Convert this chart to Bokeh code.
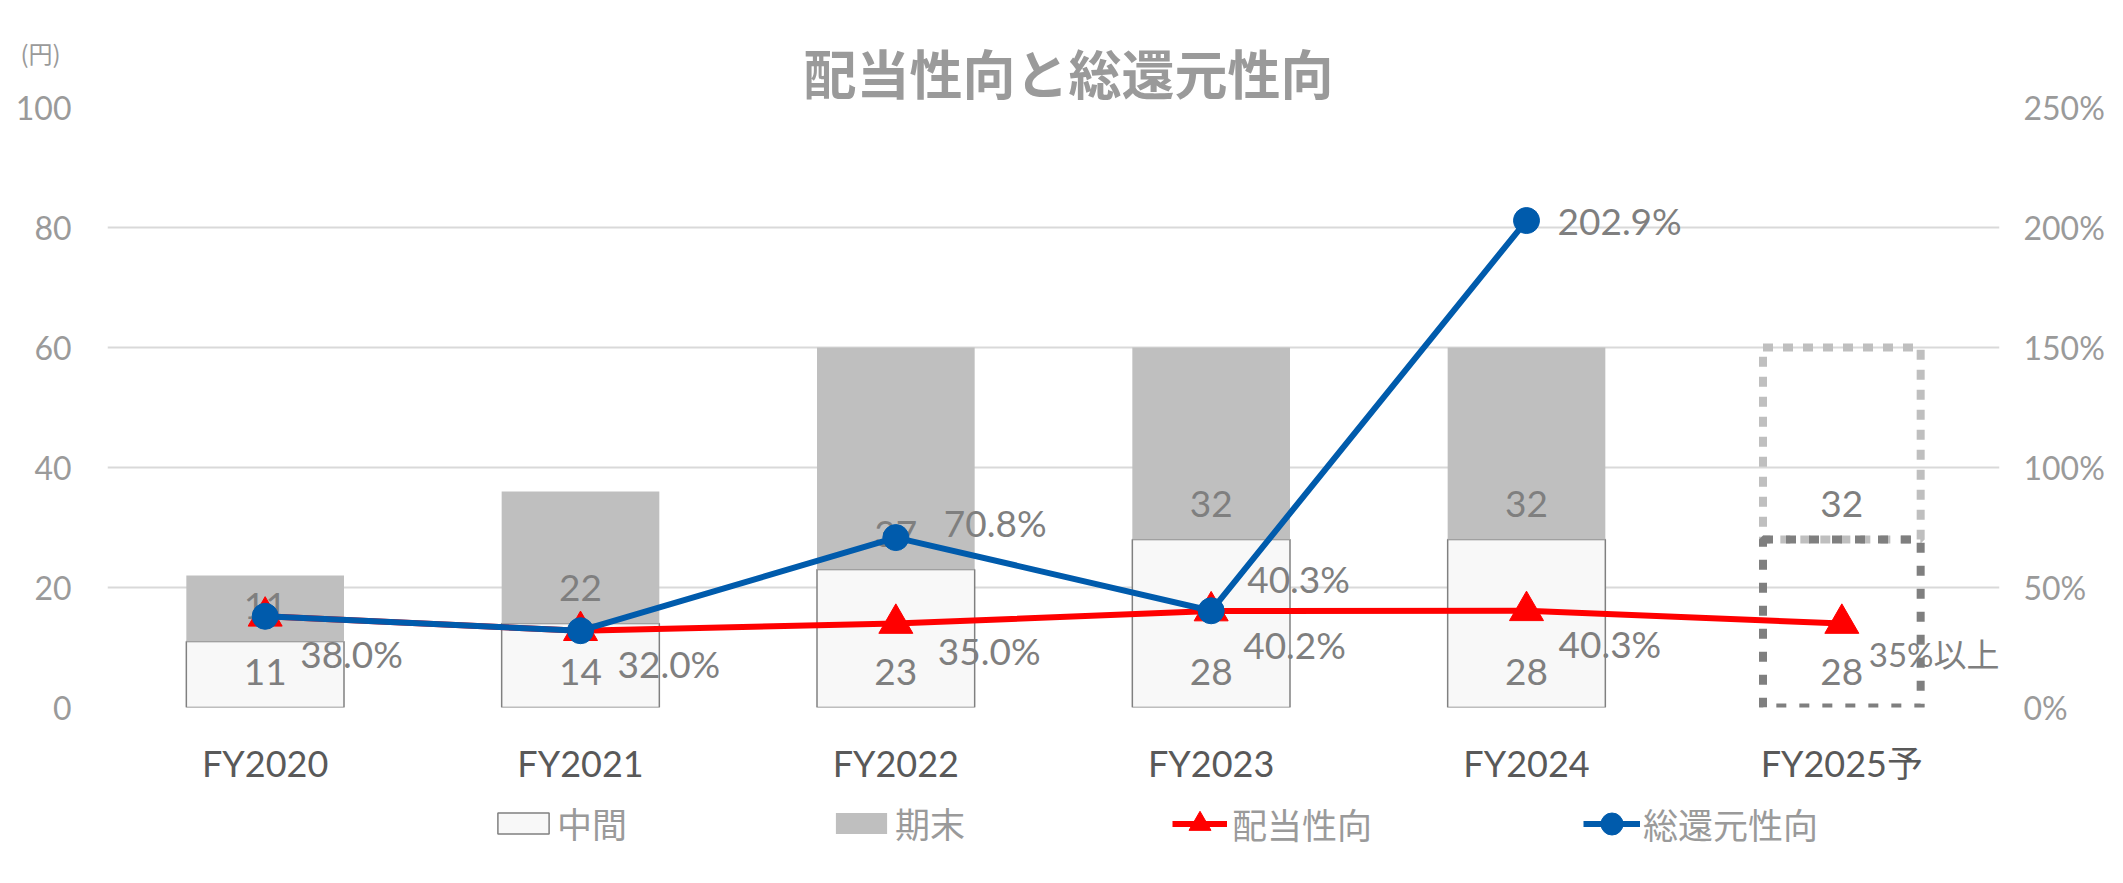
from bokeh.plotting import figure
from bokeh.layouts import column
from bokeh.models import (FactorRange, Range1d, LinearAxis, FixedTicker, PrintfTickFormatter,
                          Legend, LegendItem, Title)
from bokeh.core.properties import value
from bokeh.embed import file_html
from bokeh.resources import INLINE

# ---------------- data ----------------
categories = ["FY2020", "FY2021", "FY2022", "FY2023", "FY2024", "FY2025予"]
interim = [11, 14, 23, 28, 28, 28]          # 中間
year_end = [11, 22, 37, 32, 32, 32]         # 期末
payout_ratio = [38.0, 32.0, 35.0, 40.2, 40.3, 35.0]          # 配当性向 (%)
payout_labels = ["38.0%", "32.0%", "35.0%", "40.2%", "40.3%", "35%以上"]
total_return = [38.0, 32.0, 70.8, 40.3, 202.9]               # 総還元性向 (%)
total_return_labels = ["", "", "70.8%", "40.3%", "202.9%"]
left_ticks = [0, 20, 40, 60, 80, 100]
right_ticks = [0, 50, 100, 150, 200, 250]
n_actual = 5   # FY2025 is a forecast

# label offsets (screen px) - styling only
payout_dx = [35, 37, 42, 32, 32, 27]
payout_dy = [37, 33, 27, 33, 33, 30]
tr_dx = [0, 0, 48, 36, 31]
tr_dy = [0, 0, -15, -32, 0]

GREY_TXT = "#9a9a9a"
LBL = "#7f7f7f"
FONT = "Lato, 'Noto Sans CJK JP'"
CJK = "Noto Sans CJK JP"
W = 2107

p = figure(width=W, height=790, x_range=FactorRange(*categories), y_range=Range1d(0, 100),
           output_backend="svg", toolbar_location=None, title=None,
           min_border_left=107, min_border_right=105, min_border_top=107, min_border_bottom=83)
p.extra_y_ranges = {"pct": Range1d(0, 250)}
p.outline_line_color = None
p.background_fill_color = "white"
p.border_fill_color = "white"

# titles
p.add_layout(Title(text="配当性向と総還元性向", text_font=CJK, text_font_style="bold",
                   text_font_size="53px", text_color=GREY_TXT, align="left", offset=696,
                   standoff=-5), "above")
p.add_layout(Title(text="(円)", text_font=CJK, text_font_style="normal",
                   text_font_size="24px", text_color=GREY_TXT, align="left", offset=-87,
                   standoff=-70), "above")

# axes
p.yaxis.ticker = FixedTicker(ticks=left_ticks)
for ax in [p.xaxis[0], p.yaxis[0]]:
    ax.axis_line_color = None
    ax.major_tick_line_color = None
    ax.minor_tick_line_color = None
    ax.major_tick_out = 0
    ax.major_tick_in = 0
p.yaxis.major_label_text_font = FONT
p.yaxis.major_label_text_font_size = "32px"
p.yaxis.major_label_text_color = GREY_TXT
p.yaxis.major_label_standoff = 36
p.xaxis.major_label_text_font = FONT
p.xaxis.major_label_text_font_size = "36px"
p.xaxis.major_label_text_color = "#595959"
p.xaxis.major_label_standoff = 33

right = LinearAxis(y_range_name="pct", ticker=FixedTicker(ticks=right_ticks),
                   formatter=PrintfTickFormatter(format="%d%%"))
right.axis_line_color = None
right.major_tick_line_color = None
right.minor_tick_line_color = None
right.major_tick_out = 0
right.major_tick_in = 0
right.major_label_text_font = FONT
right.major_label_text_font_size = "32px"
right.major_label_text_color = GREY_TXT
right.major_label_standoff = 24
p.add_layout(right, "right")

p.xgrid.grid_line_color = None
p.ygrid.grid_line_color = "#d9d9d9"
p.ygrid.grid_line_width = 2

# bars
tops = [a + b for a, b in zip(interim, year_end)]
MID_STYLE = dict(fill_color="#f8f8f8", line_color="#808080", line_width=1.5)
END_STYLE = dict(fill_color="#bfbfbf", line_color=None)
p.vbar(x=categories[:n_actual], bottom=0, top=interim[:n_actual], width=0.5, **MID_STYLE)
p.vbar(x=categories[:n_actual], bottom=interim[:n_actual], top=tops[:n_actual], width=0.5, **END_STYLE)
p.vbar(x=categories[n_actual:], bottom=interim[n_actual:], top=tops[n_actual:], width=0.5,
       fill_color=None, line_color="#bfbfbf", line_width=8, line_dash="10 10")
p.vbar(x=categories[n_actual:], bottom=0, top=interim[n_actual:], width=0.5,
       fill_color=None, line_color="#7f7f7f", line_width=8, line_dash="10 13")

# bar labels (inside base)
p.text(x=categories, y=[0 for _ in interim], text=[str(v) for v in interim],
       text_align="center", text_baseline="middle", y_offset=-36,
       text_font=value(FONT), text_font_size="37px", text_color=LBL)
p.text(x=categories, y=interim, text=[str(v) for v in year_end],
       text_align="center", text_baseline="middle", y_offset=-36,
       text_font=value(FONT), text_font_size="37px", text_color=LBL)

# lines
RED = "#ff0000"
BLUE = "#005bac"
LW = 6
p.line(x=categories, y=payout_ratio, y_range_name="pct", line_color=RED, line_width=LW)
p.scatter(x=categories, y=payout_ratio, y_range_name="pct", marker="triangle", size=34,
          fill_color=RED, line_color=RED)
p.line(x=categories[:len(total_return)], y=total_return, y_range_name="pct",
       line_color=BLUE, line_width=LW)
p.scatter(x=categories[:len(total_return)], y=total_return, y_range_name="pct", marker="circle",
          size=26, fill_color=BLUE, line_color=BLUE)

# percent labels
p.text(x=categories[:n_actual], y=payout_ratio[:n_actual], text=payout_labels[:n_actual],
       y_range_name="pct", x_offset=payout_dx[:n_actual], y_offset=payout_dy[:n_actual],
       text_align="left", text_baseline="middle",
       text_font=value(FONT), text_font_size="37px", text_color=LBL)
p.text(x=categories[n_actual:], y=payout_ratio[n_actual:], text=payout_labels[n_actual:],
       y_range_name="pct", x_offset=payout_dx[n_actual:], y_offset=payout_dy[n_actual:],
       text_align="left", text_baseline="middle",
       text_font=value(FONT), text_font_size="33px", text_color=LBL)
p.text(x=categories[:len(total_return)], y=total_return, text=total_return_labels, y_range_name="pct",
       x_offset=tr_dx, y_offset=tr_dy, text_align="left", text_baseline="middle",
       text_font=value(FONT), text_font_size="37px", text_color=LBL)

# ---------------- legend row ----------------
leg = figure(width=W, height=77, output_backend="svg", toolbar_location=None,
             x_axis_type=None, y_axis_type=None,
             x_range=FactorRange(*categories), y_range=Range1d(0, 250),
             min_border_left=0, min_border_right=0, min_border_top=0, min_border_bottom=0)
leg.outline_line_color = None
leg.background_fill_color = "white"
leg.border_fill_color = "white"
# legend proxies (same data/styles as the chart, hidden in this strip)
lr_mid = leg.vbar(x=categories[:n_actual], top=interim[:n_actual], width=0.5, visible=False, **MID_STYLE)
lr_end = leg.vbar(x=categories[:n_actual], top=year_end[:n_actual], width=0.5, visible=False, **END_STYLE)
lr_pl = leg.line(x=categories, y=payout_ratio, line_color=RED, line_width=LW, visible=False)
lr_ps = leg.scatter(x=categories, y=payout_ratio, marker="triangle", fill_color=RED,
                    line_color=RED, visible=False)
lr_tl = leg.line(x=categories[:len(total_return)], y=total_return, line_color=BLUE, line_width=LW,
                 visible=False)
lr_ts = leg.scatter(x=categories[:len(total_return)], y=total_return, marker="circle",
                    fill_color=BLUE, line_color=BLUE, visible=False)


def add_legend(label, renderers, x, y, gw, gh, standoff):
    lg = Legend(items=[LegendItem(label=label, renderers=renderers)], location=(x, y),
                orientation="horizontal", glyph_width=gw, glyph_height=gh, label_standoff=standoff,
                label_height=gh, padding=0, margin=0, border_line_color=None,
                background_fill_alpha=0, inactive_fill_alpha=0,
                label_text_font=CJK, label_text_font_size="35px", label_text_color=GREY_TXT)
    leg.add_layout(lg)


add_legend("中間", [lr_mid], 384, 19, 64, 26, 2)
add_legend("期末", [lr_end], 722, 19, 64, 26, 2)
add_legend("配当性向", [lr_pl, lr_ps], 1065, 16, 55, 55, 5)
add_legend("総還元性向", [lr_tl, lr_ts], 1476, 16, 57, 55, 3)

layout = column(p, leg, spacing=0)
open("out.html", "w").write(file_html(layout, INLINE))
